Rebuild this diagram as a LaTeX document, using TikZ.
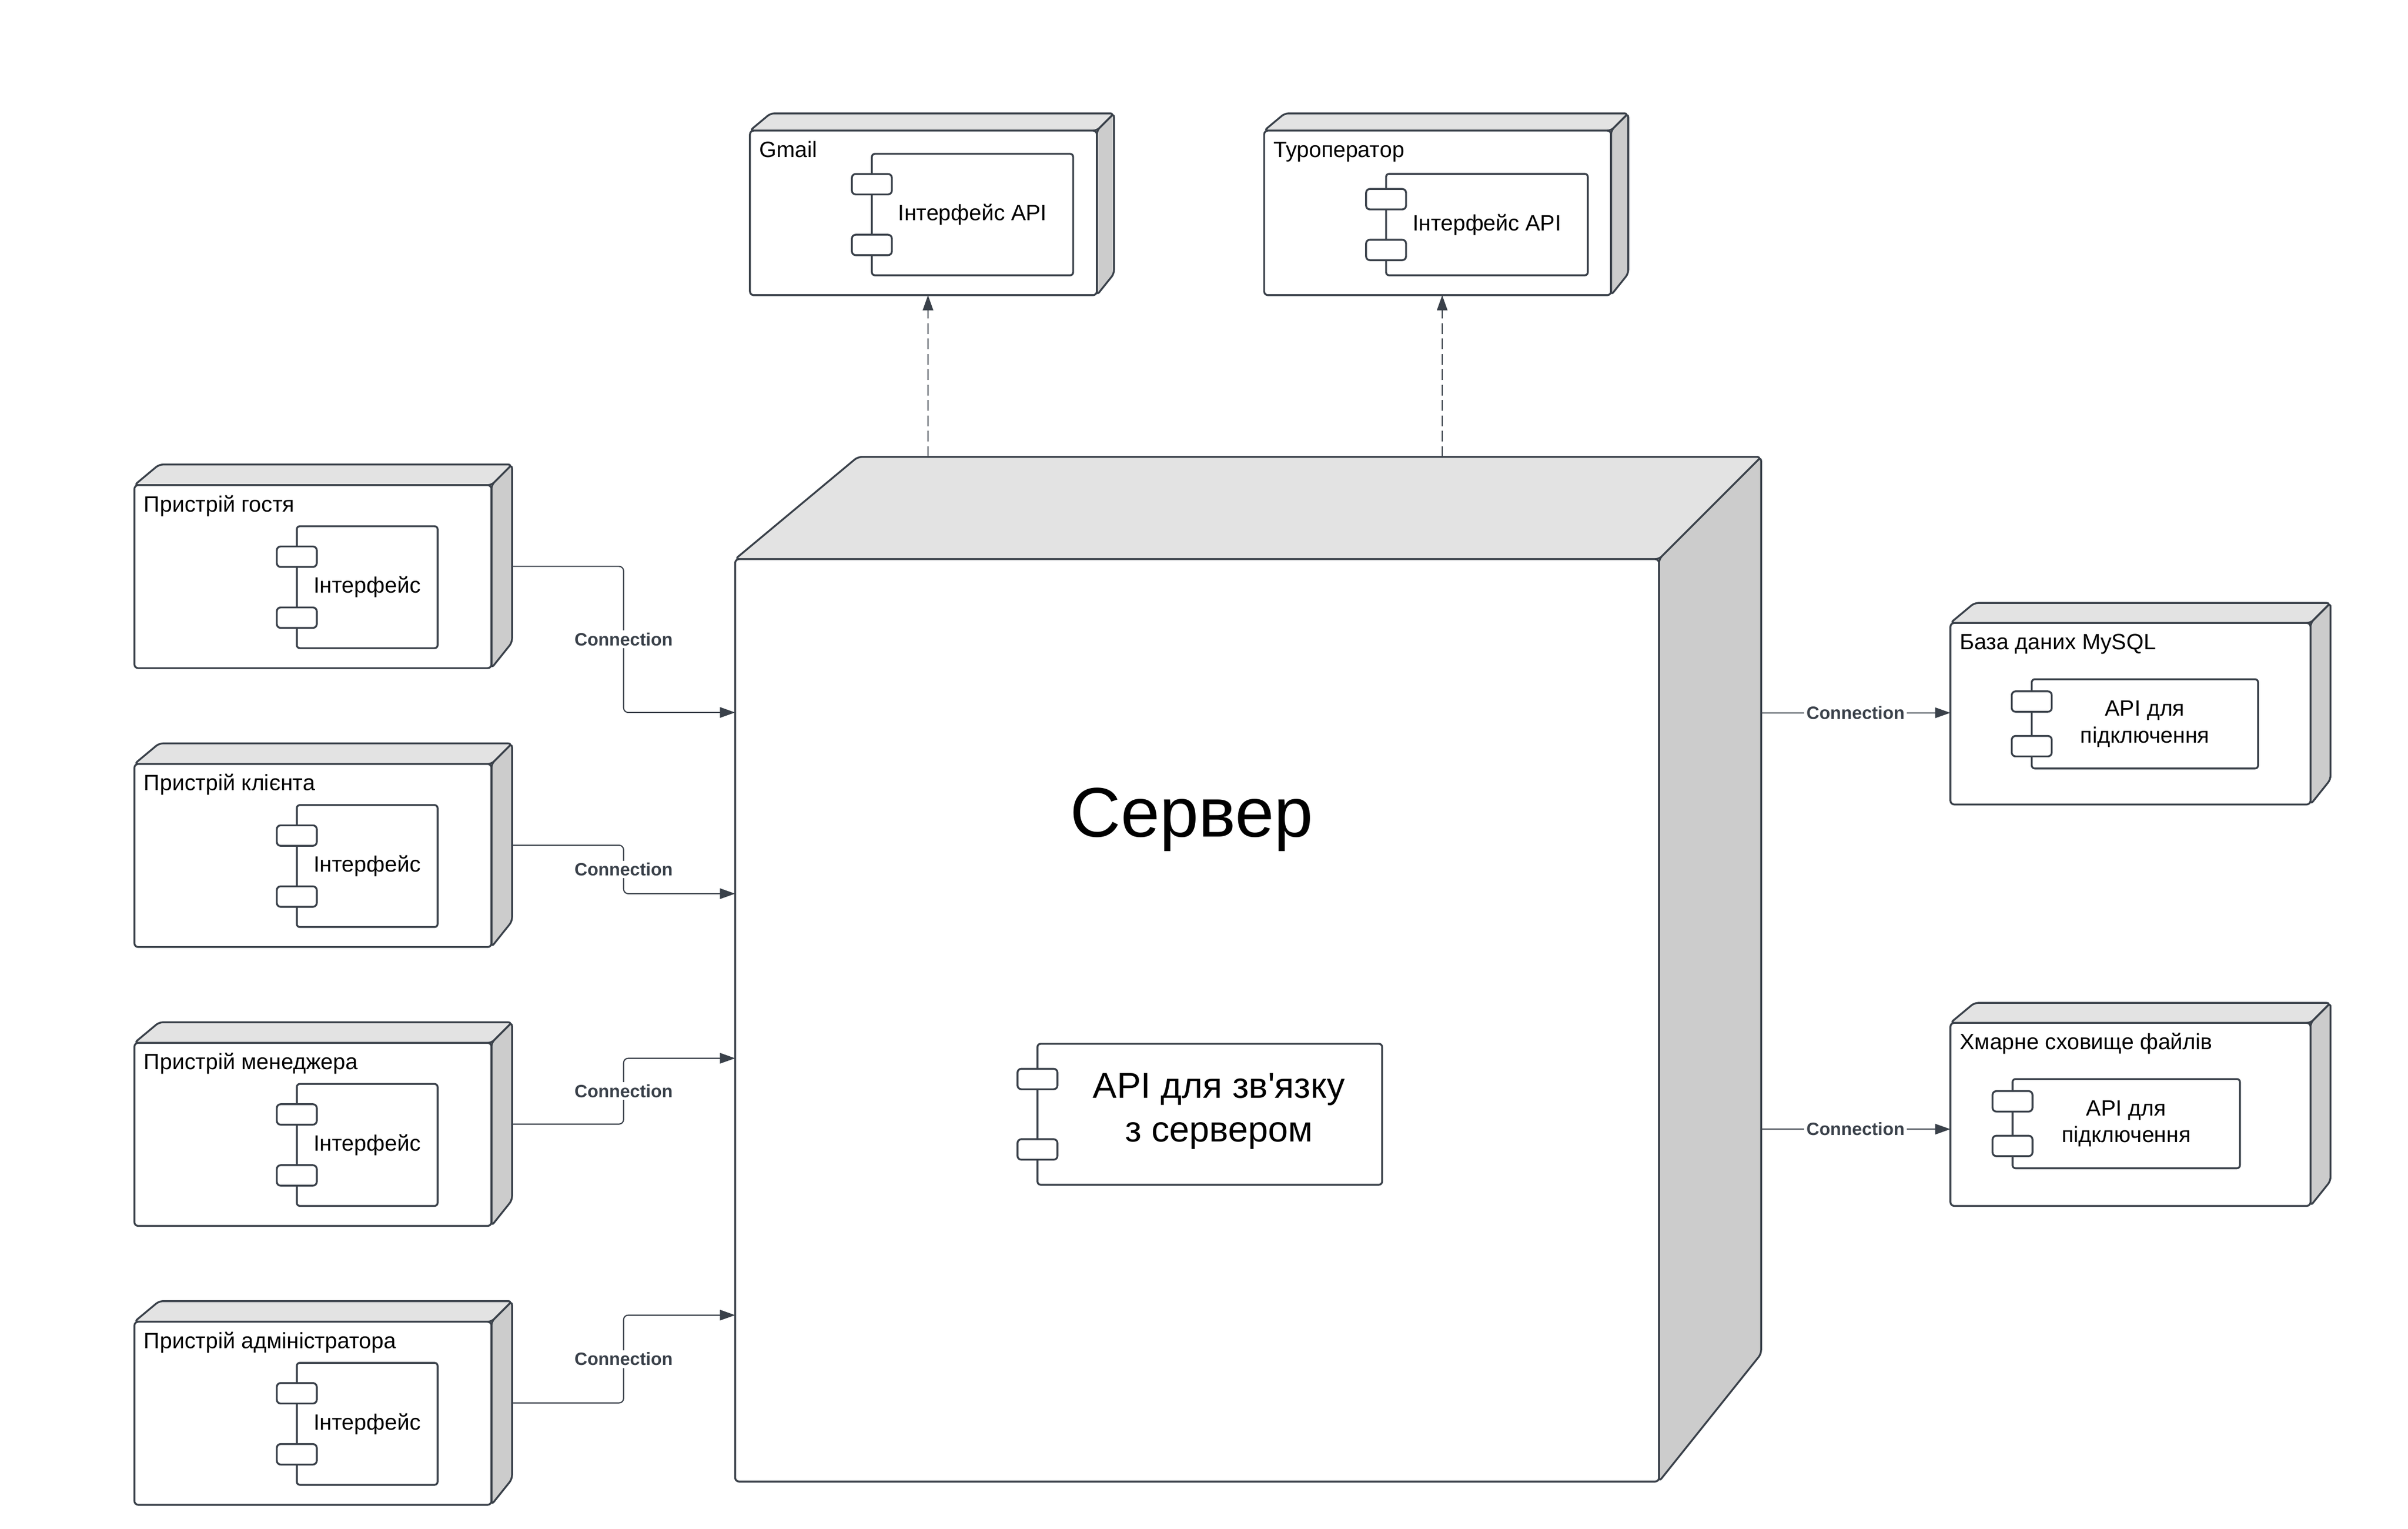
\documentclass[tikz,border=0pt]{standalone}
\usepackage{fontspec}
\setmainfont{Liberation Sans}
\usetikzlibrary{arrows.meta,calc}

\definecolor{linecolor}{RGB}{58,65,74}
\definecolor{topgray}{RGB}{227,227,227}
\definecolor{sidegray}{RGB}{204,204,204}

% 3D node: name, x, y (front top-left), width, height, depth
\newcommand{\devnode}[6]{%
    \draw[boxline, fill=topgray] (#2,#3) -- (#2+1.2*#6,#3-#6) -- (#2+#4+#6,#3-#6) -- (#2+#4,#3) -- cycle;
    \draw[boxline, fill=sidegray] (#2+#4,#3) -- (#2+#4+#6,#3-#6) -- (#2+#4+#6,#3+#5-1.25*#6) -- (#2+#4,#3+#5) -- cycle;
    \node[frontface, minimum width=#4pt, minimum height=#5pt, anchor=north west] (#1) at (#2,#3) {};
    \coordinate (#1-e) at ($(#1.east)+(#6,-0.5*#6)$);
}

% component: [text options], name, x, y, width, height, text
\newcommand{\compbox}[7][]{%
    \node[compbody, minimum width=#5pt, minimum height=#6pt, anchor=north west] (#2) at (#3,#4) {};
    \pgfmathsetmacro{\pgap}{(#6-26.6)/4}
    \draw[boxline, fill=white] ([shift={(-13,\pgap)}]#2.north west) rectangle ++(26,13.3);
    \draw[boxline, fill=white] ([shift={(-13,-\pgap)}]#2.south west) rectangle ++(26,-13.3);
    \node[comptext, #1] (#2-t) at (#2.center) {#7};
}

\begin{document}
\begin{tikzpicture}[x=1pt, y=-1pt,
    boxline/.style={draw=linecolor, line width=1.2pt, rounded corners=2.5pt, line join=round},
    frontface/.style={boxline, fill=white, rectangle, inner sep=0pt, outer sep=0pt},
    compbody/.style={boxline, fill=white, rectangle, inner sep=0pt, outer sep=0pt, rounded corners=2pt},
    devtitle/.style={anchor=base west, inner sep=0pt, font=\fontsize{14.4}{17.5}\selectfont},
    comptext/.style={align=center, inner sep=0pt, font=\fontsize{14.4}{17.5}\selectfont},
    connline/.style={draw=linecolor, line width=0.75pt, rounded corners=3pt, -{Triangle[length=9.9pt,width=6.8pt]}},
    depline/.style={connline, dash pattern=on 7pt off 3pt},
    connlabel/.style={fill=white, inner sep=1.5pt, text=linecolor, font=\bfseries\fontsize{11.6}{13}\selectfont}]

    \useasboundingbox (0,0) rectangle (1566,994);

    % Draw the server
    \devnode{server}{478.1}{363.5}{600.8}{599.7}{66.4}
    \node[anchor=base, inner sep=0pt, font=\fontsize{45.6}{54}\selectfont] (server-t) at (775,544.1) {Сервер};
    \compbox[font=\fontsize{23.4}{28.5}\selectfont, xshift=6pt, yshift=2pt]{api}{674.7}{678.6}{224.1}{91.6}{API для зв\textquotesingle язку\\з сервером}
    \coordinate (server-top) at ($(server.north)+(0,-66.4)$);

    % Devices on the left
    \foreach \i/\name in {0/Пристрій гостя, 1/Пристрій клієнта, 2/Пристрій менеджера, 3/Пристрій адміністратора} {
        \pgfmathsetmacro{\yy}{315.4+181.3*\i}
        \devnode{dev\i}{87.4}{\yy}{232.2}{119}{13.4}
        \node[devtitle] (dev\i-t) at ([shift={(6,17.3)}]dev\i.north west) {\name};
        \compbox{ui\i}{193}{\yy+26.7}{91.6}{79.3}{Інтерфейс}
    }

    % External services on top
    \devnode{gmail}{487.7}{84.9}{225.6}{107}{11.2}
    \node[devtitle] (gmail-t) at ([shift={(6,17.3)}]gmail.north west) {Gmail};
    \compbox{gmail-api}{567}{100}{130.9}{79}{Інтерфейс API}

    \devnode{tour}{822.1}{84.9}{225.6}{107}{11.2}
    \node[devtitle] (tour-t) at ([shift={(6,17.3)}]tour.north west) {Туроператор};
    \compbox{tour-api}{901.4}{113}{131.2}{66}{Інтерфейс API}

    % Storage on the right
    \devnode{db}{1268.4}{405}{234.2}{118}{13}
    \node[devtitle] (db-t) at ([shift={(6,17.3)}]db.north west) {База даних MySQL};
    \compbox{db-api}{1321.3}{441.6}{147.2}{58}{API для\\підключення}

    \devnode{cloud}{1268.4}{665}{234.2}{119}{13}
    \node[devtitle] (cloud-t) at ([shift={(6,17.3)}]cloud.north west) {Хмарне сховище файлів};
    \compbox{cloud-api}{1308.8}{701.5}{147.9}{58}{API для\\підключення}

    % Connections from the devices into the server
    \foreach \i/\ys in {0/463.2, 1/581, 2/688, 3/855} {
        \coordinate (in\i) at (478.1,\ys);
        \draw[connline] (dev\i-e) -| ($(dev\i-e)!0.5!(in\i)$) |- (in\i);
        \node[connlabel] (lbl\i) at ($(dev\i-e)!0.5!(in\i)$) {Connection};
    }

    % Connections from the server to the storage
    \coordinate (out-db) at (1145,463.4);
    \coordinate (out-cloud) at (1145,734.1);
    \draw[connline] (out-db) -- (db.west |- out-db) node[connlabel, midway] (lbl-db) {Connection};
    \draw[connline] (out-cloud) -- (cloud.west |- out-cloud) node[connlabel, midway] (lbl-cloud) {Connection};

    % Dashed dependencies to the external services
    \coordinate (gmail-in) at ($(gmail.south)+(3,0)$);
    \coordinate (tour-in) at ($(tour.south)+(3,0)$);
    \draw[depline] (gmail-in |- server-top) -- (gmail-in);
    \draw[depline] (tour-in |- server-top) -- (tour-in);
\end{tikzpicture}
\end{document}
